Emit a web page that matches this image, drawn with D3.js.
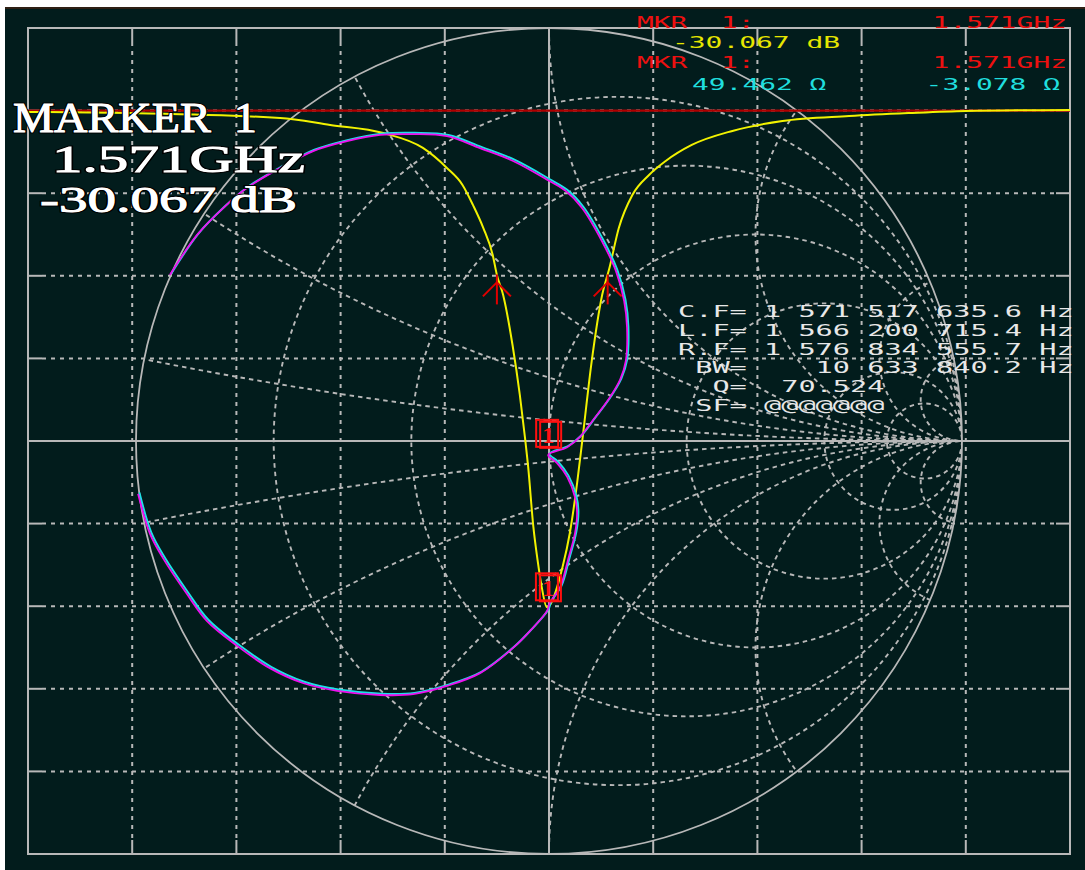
<!DOCTYPE html>
<html>
<head>
<meta charset="utf-8">
<script src="https://cdn.jsdelivr.net/npm/d3@7"></script>
<style>
  body { margin: 0; background: #fff; }
  text { white-space: pre; }
</style>
</head>
<body>
<svg id="chart" width="1085" height="870"></svg>
<script>
// CH1 log mag trace (GHz, dB)
const freqGHz = [1.5212, 1.5310, 1.5454, 1.5502, 1.5553, 1.5591, 1.5614, 1.5629, 1.5639, 1.5649,
                 1.5658, 1.5662, 1.5668, 1.5677, 1.5684, 1.5689, 1.5692, 1.5697, 1.5701, 1.5705,
                 1.5710, 1.5725, 1.5732, 1.5739, 1.5744, 1.5753, 1.5763, 1.5770, 1.5779, 1.5792,
                 1.5808, 1.5824, 1.5849, 1.5888, 1.5936, 1.6000, 1.6057, 1.6112, 1.6212];
const magDB = [-0.08, -0.15, -0.45, -0.87, -1.36, -2.26, -3.47, -4.50, -5.71, -7.11,
               -8.74, -9.95, -11.16, -14.19, -17.21, -19.82, -21.57, -25.20, -27.20, -28.83,
               -30.07, -27.63, -25.57, -22.54, -19.94, -15.16, -11.16, -9.53, -7.11, -5.11,
               -3.90, -3.05, -2.08, -1.23, -0.63, -0.33, -0.15, -0.02, 0.04];

// CH2 smith trace, reflection coefficient (real, imag)
const gammaRe = [-0.995, -0.966, -0.935, -0.877, -0.828, -0.755, -0.676, -0.596, -0.513, -0.409,
                 -0.329, -0.247, -0.167, -0.087, -0.046, -0.005, 0.002, 0.027, 0.046, 0.063,
                 0.068, 0.063, 0.044, 0.019, -0.002, 0.044, 0.075, 0.107, 0.143, 0.172,
                 0.186, 0.189, 0.182, 0.162, 0.128, 0.080, 0.041, 0.000, -0.087, -0.167,
                 -0.247, -0.329, -0.409, -0.489, -0.571, -0.651, -0.731, -0.789, -0.852, -0.918];
const gammaIm = [-0.128, -0.225, -0.283, -0.370, -0.436, -0.496, -0.550, -0.586, -0.605, -0.615,
                 -0.613, -0.593, -0.562, -0.501, -0.460, -0.412, -0.392, -0.354, -0.288, -0.223,
                 -0.174, -0.136, -0.087, -0.053, -0.034, -0.015, 0.010, 0.051, 0.099, 0.148,
                 0.194, 0.274, 0.339, 0.412, 0.484, 0.564, 0.605, 0.630, 0.678, 0.709,
                 0.738, 0.743, 0.741, 0.726, 0.702, 0.661, 0.613, 0.564, 0.499, 0.402];

// smith chart grid values
const resistances = [0.2, 0.5, 1, 2, 5, 10];
const reactances = [0.1, 0.3, 0.6, 1, 2, 5, 10];

// marker and bandwidth readout
const mkrFreqGHz = 1.571;
const mkrDB = -30.067;
const mkrR = 49.462;
const mkrX = -3.078;
const bwFreqGHz = [1.5662, 1.57683];
const bwLevelDB = [-10.4, -10.4];

const bigLabels = ["MARKER  1", "1.571GHz", "-30.067 dB"];
const mkrLabels = ["MKR  1:", "1.571GHz", "-30.067 dB", "MKR  1:", "1.571GHz", "49.462 \u03a9", "-3.078 \u03a9"];
const bwLabels = ["C.F= 1 571 517 635.6 Hz",
                  "L.F= 1 566 200 715.4 Hz",
                  "R.F= 1 576 834 555.7 Hz",
                  " BW=    10 633 840.2 Hz",
                  "  Q=  70.524",
                  " SF= @@@@@@@"];

function draw() {
  let svg = d3.select("#chart");

  svg.append("rect").attr("x", 5).attr("y", 7).attr("width", 1080).attr("height", 863).attr("fill", "#021c1c");
  svg.append("line").attr("x1", 5).attr("x2", 1085).attr("y1", 8).attr("y2", 8)
    .attr("stroke", "#2e1f14").attr("stroke-width", 2);

  let gridX = d3.scaleLinear().domain([0, 10]).range([28, 1070]);
  let gridY = d3.scaleLinear().domain([0, 10]).range([28, 854]);
  let x = d3.scaleLinear().domain([1.5212, 1.6212]).range([28, 1070]);
  let y = d3.scaleLinear().domain([5, -45]).range([28, 854]);
  let gx = d3.scaleLinear().domain([-1, 1]).range([136, 962]);
  let gy = d3.scaleLinear().domain([-1, 1]).range([854, 28]);
  let R = gx(1) - gx(0);

  const gray = "#b8b8b8";

  // rectangular graticule
  let grid = svg.append("g").attr("stroke", gray).attr("stroke-width", 2).attr("fill", "none");
  let inner = d3.range(1, 10).filter(i => i != 5);
  grid.selectAll(".vd").data(inner).join("line")
    .attr("x1", d => gridX(d)).attr("x2", d => gridX(d))
    .attr("y1", gridY(0) + 14).attr("y2", gridY(10) - 14)
    .attr("stroke-dasharray", "4,5");
  grid.selectAll(".hd").data(inner).join("line")
    .attr("y1", d => gridY(d)).attr("y2", d => gridY(d))
    .attr("x1", gridX(0) + 14).attr("x2", gridX(10) - 14)
    .attr("stroke-dasharray", "4,5");
  // solid stubs at the edges
  inner.forEach(function(d) {
    [[gridY(0), gridY(0) + 14], [gridY(10) - 14, gridY(10)]].forEach(function(s) {
      grid.append("line").attr("x1", gridX(d)).attr("x2", gridX(d)).attr("y1", s[0]).attr("y2", s[1]);
    });
    [[gridX(0), gridX(0) + 14], [gridX(10) - 14, gridX(10)]].forEach(function(s) {
      grid.append("line").attr("y1", gridY(d)).attr("y2", gridY(d)).attr("x1", s[0]).attr("x2", s[1]);
    });
  });
  grid.append("line").attr("x1", gridX(5)).attr("x2", gridX(5)).attr("y1", gridY(0)).attr("y2", gridY(10));
  grid.append("line").attr("y1", gridY(5)).attr("y2", gridY(5)).attr("x1", gridX(0)).attr("x2", gridX(10));
  grid.append("rect").attr("x", gridX(0)).attr("y", gridY(0))
    .attr("width", gridX(10) - gridX(0)).attr("height", gridY(10) - gridY(0));

  // smith chart
  svg.append("clipPath").attr("id", "unit")
    .append("circle").attr("cx", gx(0)).attr("cy", gy(0)).attr("r", R);
  let smith = svg.append("g").attr("clip-path", "url(#unit)")
    .attr("stroke", gray).attr("stroke-width", 1.9).attr("fill", "none").attr("stroke-dasharray", "4.5,4");
  smith.selectAll(".r").data(resistances).join("circle")
    .attr("cx", d => gx(d / (1 + d))).attr("cy", gy(0))
    .attr("r", d => R / (1 + d));
  let xs = reactances.concat(reactances.map(d => -d));
  smith.selectAll(".x").data(xs).join("circle")
    .attr("cx", gx(1)).attr("cy", d => gy(1 / d))
    .attr("r", d => R / Math.abs(d));
  svg.append("circle").attr("cx", gx(0)).attr("cy", gy(0)).attr("r", R)
    .attr("fill", "none").attr("stroke", gray).attr("stroke-width", 1.8);

  // reference line
  svg.append("line").attr("x1", gridX(0) - 8).attr("x2", gridX(10)).attr("y1", y(0)).attr("y2", y(0))
    .attr("stroke", "#b00000").attr("stroke-width", 2.2);

  // log mag trace
  let magLine = d3.line().x(d => x(d[0])).y(d => y(d[1])).curve(d3.curveMonotoneX);
  svg.append("path").datum(d3.zip(freqGHz, magDB))
    .attr("d", magLine).attr("fill", "none").attr("stroke", "#f2f200").attr("stroke-width", 2);

  // bandwidth arrows
  let arrows = svg.append("g").attr("stroke", "#e00000").attr("stroke-width", 2).attr("fill", "none");
  bwFreqGHz.forEach(function(f, i) {
    let ax = x(f), ay = y(bwLevelDB[i]);
    arrows.append("line").attr("x1", ax).attr("x2", ax).attr("y1", ay - 8).attr("y2", ay + 22);
    arrows.append("path").attr("d", "M" + (ax - 14) + "," + (ay + 14) + "L" + ax + "," + ay + "L" + (ax + 14) + "," + (ay + 14));
  });

  // smith trace (memory in cyan under data in magenta)
  let gLine = d3.line().x(d => gx(d[0])).y(d => gy(d[1])).curve(d3.curveCatmullRom);
  let gpts = d3.zip(gammaRe, gammaIm);
  svg.append("path").datum(gpts).attr("d", gLine).attr("fill", "none")
    .attr("stroke", "#1ee0e6").attr("stroke-width", 2).attr("transform", "translate(1.3,-1.3)");
  svg.append("path").datum(gpts).attr("d", gLine).attr("fill", "none")
    .attr("stroke", "#ee10ee").attr("stroke-width", 1.8);

  // marker boxes
  let zr = mkrR / 50, zi = mkrX / 50;
  let den = (zr + 1) * (zr + 1) + zi * zi;
  let mkrGamma = [((zr * zr + zi * zi) - 1) / den, (2 * zi) / den];
  let mk = [[x(mkrFreqGHz), y(mkrDB)], [gx(mkrGamma[0]), gy(mkrGamma[1])]];
  mk.forEach(function(p) {
    let g = svg.append("g").attr("stroke", "#ff1010").attr("fill", "none").attr("stroke-width", 2);
    g.append("rect").attr("x", p[0] - 11).attr("y", p[1] - 34).attr("width", 22).attr("height", 27);
    g.append("rect").attr("x", p[0] - 7).attr("y", p[1] - 32).attr("width", 21).attr("height", 26);
    svg.append("text").attr("x", p[0] + 1).attr("y", p[1] - 11).attr("text-anchor", "middle")
      .attr("font-family", "Liberation Serif").attr("font-size", 24).attr("font-weight", "bold")
      .attr("fill", "#ff1010").text("1");
  });

  // big marker readout
  let big = svg.append("g").attr("font-family", "Liberation Serif")
    .attr("fill", "#ffffff").attr("stroke", "#000").attr("stroke-width", 3)
    .style("paint-order", "stroke");
  let bigPos = [[13, 132, 244, 42], [52, 172, 253, 38], [40, 212, 257, 36]];
  bigLabels.forEach(function(t, i) {
    big.append("text").attr("x", bigPos[i][0]).attr("y", bigPos[i][1])
      .attr("font-size", bigPos[i][3])
      .attr("textLength", bigPos[i][2]).attr("lengthAdjust", "spacingAndGlyphs").text(t);
    big.append("text").attr("x", bigPos[i][0]).attr("y", bigPos[i][1])
      .attr("font-size", bigPos[i][3]).attr("stroke", "#ffffff").attr("stroke-width", 0.9)
      .attr("textLength", bigPos[i][2]).attr("lengthAdjust", "spacingAndGlyphs").text(t);
  });

  // top readout
  let small = svg.append("g").attr("font-family", "DejaVu Sans Mono").attr("font-size", 16);
  let mkrPos = [[637, 28, "start", "#ee1010"], [1067, 28, "end", "#ee1010"], [672, 48, "start", "#e6e600"],
                [637, 68, "start", "#ee1010"], [1067, 68, "end", "#ee1010"], [692, 90, "start", "#20dede"],
                [1060, 90, "end", "#20dede"]];
  mkrLabels.forEach(function(t, i) {
    small.append("text").attr("x", mkrPos[i][0]).attr("y", mkrPos[i][1])
      .attr("text-anchor", mkrPos[i][2]).attr("fill", mkrPos[i][3])
      .attr("textLength", t.length * 16.8).attr("lengthAdjust", "spacingAndGlyphs").text(t);
  });

  // bandwidth readout
  bwLabels.forEach(function(t, i) {
    small.append("text").attr("x", 678).attr("y", 317 + i * 18.8)
      .attr("fill", "#e8e8e8")
      .attr("textLength", t.length * 17.2).attr("lengthAdjust", "spacingAndGlyphs").text(t);
  });
}
draw();
</script>
</body>
</html>
